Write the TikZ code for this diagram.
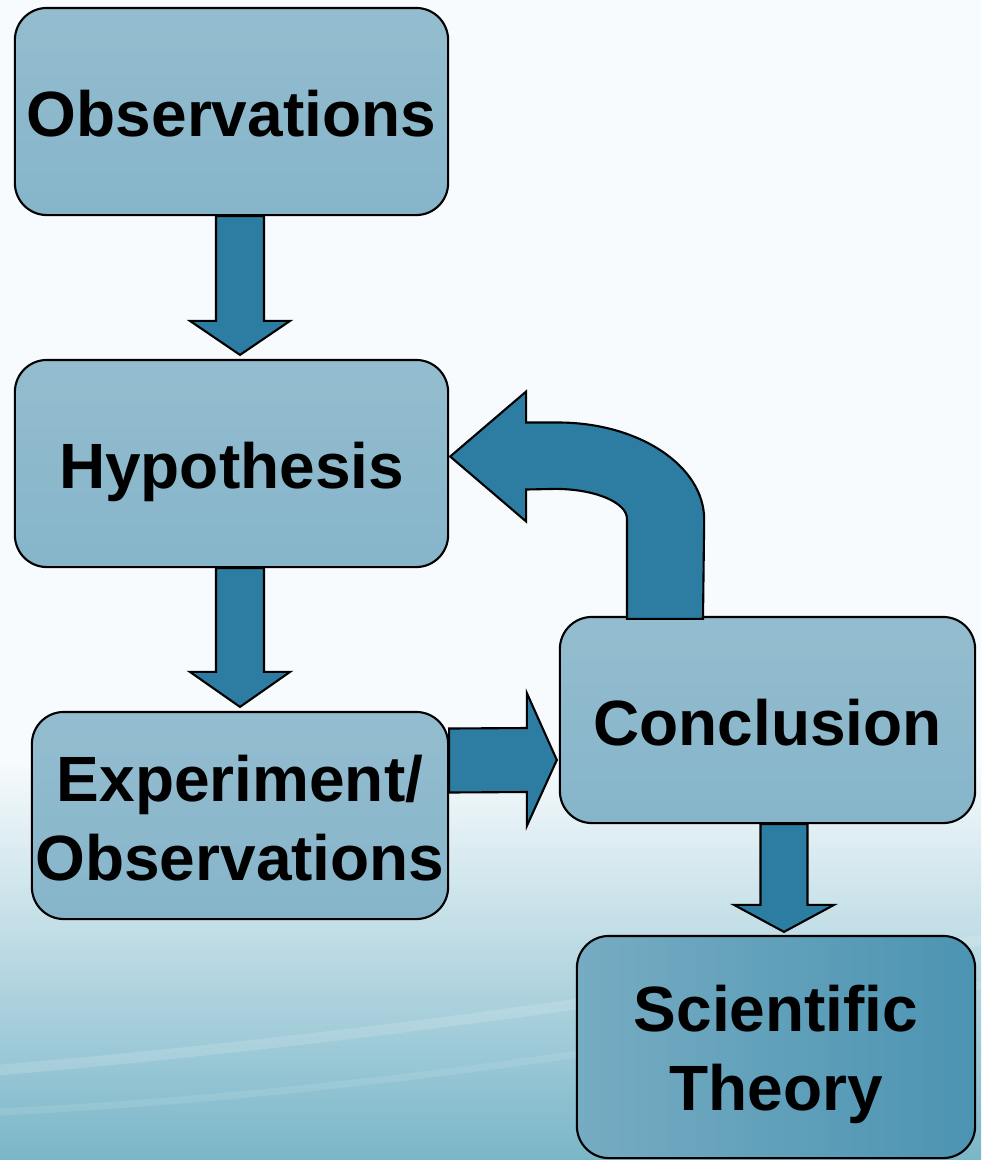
\documentclass[tikz,border=0pt]{standalone}
\usepackage{fontspec}
\setmainfont{Liberation Sans}
\usepackage{xcolor}
\usepackage{tikz}
\usetikzlibrary{calc,positioning}
\definecolor{bgtop}{RGB}{247,251,253}
\definecolor{bgmid}{RGB}{206,230,237}
\definecolor{bgbot}{RGB}{122,182,200}
\definecolor{boxtop}{RGB}{148,188,207}
\definecolor{boxbot}{RGB}{134,181,202}
\definecolor{thyleft}{RGB}{118,172,194}
\definecolor{thyright}{RGB}{76,148,178}
\definecolor{flow}{RGB}{45,124,161}

\tikzset{
  stage/.style={draw=black,line width=0.6pt,rounded corners=0.32cm,
    top color=boxtop,bottom color=boxbot,align=center,inner sep=0pt,
    text height=0.5cm,text depth=0cm,
    font=\fontsize{18.2}{22.2}\selectfont\bfseries},
  twoline/.style={text height=#1,text depth=0cm},
  blk/.style={draw=black,line width=0.6pt,fill=flow,line join=miter}
}
% down block arrow: start, tip, head length, shaft half width
\newcommand{\downblk}[4]{%
  \draw[blk] ($(#1)+(-#4,0)$) -- ($(#2)+(-#4,#3)$) -- ($(#2)+(-50,#3)$) -- (#2)
    -- ($(#2)+(50,#3)$) -- ($(#2)+(#4,#3)$) -- ($(#1)+(#4,0)$) -- cycle;}

\begin{document}
\begin{tikzpicture}[x=0.01cm,y=0.01cm]
  \useasboundingbox (0,0) rectangle (981,-1160);
  % background
  \fill[bgtop] (0,0) rectangle (981,-1160);
  \shade[top color=bgtop,middle color=bgmid,bottom color=bgbot]
    (0,-760) rectangle (981,-1160);
  \draw[white,opacity=0.15,line width=3pt] (0,-1070) .. controls (350,-1040) and (700,-990) .. (981,-940);
  \draw[white,opacity=0.1,line width=2pt] (0,-1112) .. controls (350,-1095) and (700,-1040) .. (981,-985);

  % stages
  \node[stage,minimum width=4.33cm,minimum height=2.07cm] (obs) at (231.5,-111.5) {Observations};
  \node[stage,minimum width=4.33cm,minimum height=2.07cm] (hyp) at (231.5,-463.5) {Hypothesis};
  \node[stage,twoline=1.29cm,minimum width=4.16cm,minimum height=2.07cm] (exp) at (240,-815.5) {Experiment/\\Observations};
  \node[stage,minimum width=4.15cm,minimum height=2.06cm] (con) at (767.5,-720) {Conclusion};
  \node[stage,twoline=1.26cm,minimum width=3.98cm,minimum height=2.22cm,
        left color=thyleft,right color=thyright] (thy) at (776,-1047) {Scientific\\Theory};

  % arrows
  \downblk{$(obs.south)+(8.5,0)$}{$(hyp.north)+(8.5,4)$}{34}{24}
  \downblk{$(hyp.south)+(8.5,0)$}{$(exp.north)+(0,4)$}{35}{24}
  \downblk{$(con.south)+(16.5,0)$}{$(thy.north)+(8,3)$}{27}{23.5}

  \coordinate (s3) at ($(exp.east)+(0,55)$);
  \coordinate (t3) at ($(con.west)+(-2,-40)$);
  \draw[blk] ($(s3)+(0,32)$) -- ($(t3)+(-30,32)$) -- ($(t3)+(-30,67)$) -- (t3)
    -- ($(t3)+(-30,-66)$) -- ($(t3)+(-30,-32)$) -- ($(s3)+(0,-32)$) -- cycle;

  % back to hypothesis
  \coordinate (rfoot) at ($(con.north)+(-102.5,-3)$);
  \coordinate (rtip) at ($(hyp.east)+(1,7)$);
  \draw[blk] ($(rfoot)+(-38,0)$) -- ($(rfoot)+(-38,100)$)
    arc[start angle=0,end angle=90,x radius=72,y radius=30]
    -- ($(rtip)+(76,-33)$) -- ($(rtip)+(76,-65)$) -- (rtip)
    -- ($(rtip)+(76,65)$) -- ($(rtip)+(76,34)$) -- ($(rtip)+(108,34)$)
    arc[start angle=90,end angle=0,x radius=146,y radius=97]
    -- ($(rfoot)+(38,0)$) -- cycle;
\end{tikzpicture}
\end{document}
